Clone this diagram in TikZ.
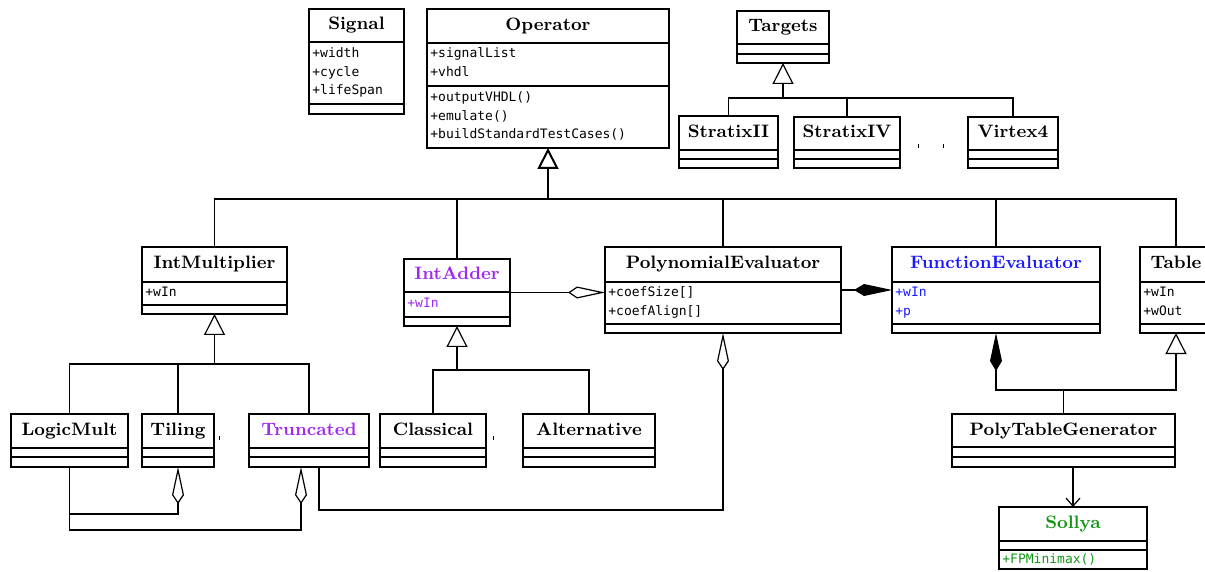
\documentclass[tikz,border=0pt]{standalone}
\usepackage{fontspec}
\setmonofont{DejaVu Sans Mono}
\usetikzlibrary{arrows.meta}
\definecolor{upurple}{RGB}{160,40,240}
\definecolor{ublue}{RGB}{25,25,255}
\definecolor{ugreen}{RGB}{20,150,20}
\tikzset{
  box/.style={draw, line width=0.75pt, inner sep=0pt, outer sep=0pt, anchor=north west},
  sepline/.style={line width=0.75pt},
  ctitle/.style={font=\fontsize{9}{11}\selectfont\bfseries, inner sep=0pt, text height=6.5pt, text depth=2pt},
  cattr/.style={font=\fontsize{6.5}{8}\selectfont\ttfamily, inner sep=0pt, anchor=west, text height=4.8pt, text depth=1.3pt},
  conn/.style={line width=0.6pt},
  inherit/.style={conn, -{Triangle[open, length=10.5pt, width=10.5pt]}},
  aggr/.style={conn, -{Kite[open, length=18.5pt, width=6pt, inset=4.5pt]}},
  compo/.style={conn, -{Kite[length=19pt, width=6pt, inset=5pt]}},
  assoc/.style={conn, -{Straight Barb[length=4pt, width=7pt]}},
}
\newcommand\umlcls[9]{%
  \node[box, minimum width={(#4-#2)*0.5pt}, minimum height={(#5-#3)*0.5pt}] (#1) at (#2,#3) {};
  \draw[sepline] (#2,#6) -- (#4,#6);
  \draw[sepline] (#2,#7) -- (#4,#7);
  \node[ctitle, text=#9] (#1-t) at ({(#2+#4)/2},{(#3+#6)/2}) {#8};
}
\begin{document}
\begin{tikzpicture}[x=0.5pt, y=-0.5pt]
\clip (0,0) rectangle (1205,572);
% classes
\umlcls{signal}{309}{9}{404}{114}{42}{104}{Signal}{black}
\umlcls{operator}{427}{9}{669}{148}{43}{86}{Operator}{black}
\umlcls{targets}{737}{11}{829}{63}{44}{54}{Targets}{black}
\umlcls{stratixii}{679}{116}{778}{168}{150}{159}{StratixII}{black}
\umlcls{stratixiv}{794}{117}{900}{168}{150}{159}{StratixIV}{black}
\umlcls{virtex}{968}{117}{1058}{168}{150}{159}{Virtex4}{black}
\umlcls{intmult}{142}{247}{287}{314}{282}{305}{IntMultiplier}{black}
\umlcls{intadder}{404}{259}{510}{326}{292}{317}{IntAdder}{upurple}
\umlcls{polyeval}{605}{247}{841}{333}{282}{324}{PolynomialEvaluator}{black}
\umlcls{fe}{892}{247}{1100}{333}{282}{324}{FunctionEvaluator}{ublue}
\umlcls{table}{1140}{247}{1212}{333}{282}{324}{Table}{black}
\umlcls{logicmult}{11}{414}{128}{467}{448}{457}{LogicMult}{black}
\umlcls{tiling}{142}{414}{214}{467}{448}{457}{Tiling}{black}
\umlcls{truncated}{249}{414}{369}{467}{448}{457}{Truncated}{upurple}
\umlcls{classical}{380}{414}{486}{467}{448}{457}{Classical}{black}
\umlcls{alternative}{523}{414}{655}{467}{448}{457}{Alternative}{black}
\umlcls{ptg}{952}{414}{1175}{467}{447}{457}{PolyTableGenerator}{black}
\umlcls{sollya}{999}{507}{1147}{569}{541}{550}{Sollya}{ugreen}
% attributes and methods
\node[cattr] (signal-a1) at (312,54) {+width};
\node[cattr] (signal-a2) at (312,73) {+cycle};
\node[cattr] (signal-a3) at (312,91) {+lifeSpan};
\node[cattr] (operator-a1) at (430,54) {+signalList};
\node[cattr] (operator-a2) at (430,73) {+vhdl};
\node[cattr] (operator-m1) at (430,98) {+outputVHDL()};
\node[cattr] (operator-m2) at (430,117) {+emulate()};
\node[cattr] (operator-m3) at (430,135) {+buildStandardTestCases()};
\node[cattr] (intmult-a1) at (145,293) {+wIn};
\node[cattr, text=upurple] (intadder-a1) at (407,304) {+wIn};
\node[cattr] (polyeval-a1) at (608,293) {+coefSize[]};
\node[cattr] (polyeval-a2) at (608,312) {+coefAlign[]};
\node[cattr, text=ublue] (fe-a1) at (895,293) {+wIn};
\node[cattr, text=ublue] (fe-a2) at (895,312) {+p};
\node[cattr] (table-a1) at (1143,293) {+wIn};
\node[cattr] (table-a2) at (1143,312) {+wOut};
\node[cattr, text=ugreen] (sollya-m1) at (1002,560) {+FPMinimax()};
% small marks
\draw[line width=0.5pt] (918,144) -- (918,148);
\draw[line width=0.5pt] (943,144) -- (943,148);
\draw[line width=0.5pt] (219,436) -- (219,440);
\draw[line width=0.5pt] (493,436) -- (493,440);
% Operator generalisation
\coordinate (opj) at (548,199);
\draw[conn] (intmult.north) |- (opj);
\draw[conn] (intadder.north) |- (opj);
\draw[conn] (polyeval.north) |- (opj);
\draw[conn] (fe.north) |- (opj);
\draw[conn] (table.north) |- (opj);
\draw[inherit, line width=1pt] (opj) -- (operator.south);
% Targets generalisation
\coordinate (tj) at (783,98);
\draw[conn] (stratixii.north) |- (tj);
\draw[conn] (stratixiv.north) |- (tj);
\draw[conn] (virtex.north) |- (tj);
\draw[inherit] (tj) -- (targets.south);
% IntMultiplier generalisation
\coordinate (imj) at (214.5,364);
\draw[conn] (logicmult.north) |- (imj);
\draw[conn] (tiling.north) |- (imj);
\draw[conn] (truncated.north) |- (imj);
\draw[inherit] (imj) -- (intmult.south);
% IntAdder generalisation
\coordinate (iaj) at (457,370);
\draw[conn] (classical.north) |- (iaj);
\draw[conn] (alternative.north) |- (iaj);
\draw[inherit] (iaj) -- (intadder.south);
% aggregations
\coordinate (a1) at (178,514);
\draw[aggr] (logicmult.south) |- (a1) -- (tiling.south);
\coordinate (a2) at (301,530);
\draw[aggr] (logicmult.south) |- (a2) -- (a2 |- truncated.south);
\coordinate (a3) at (723,510);
\draw[aggr] ([xshift=5pt]truncated.south) |- (a3) -- (polyeval.south);
\draw[aggr] (intadder.east) -- (intadder.east -| polyeval.west);
\draw[compo] (polyeval.east) -- (polyeval.east -| fe.west);
% PolyTableGenerator
\coordinate (pj) at (1064,390);
\draw[compo] (ptg.north) |- (pj -| fe.south) -- (fe.south);
\draw[inherit] (ptg.north) |- (pj -| table.south) -- (table.south);
\draw[assoc] (sollya.north |- ptg.south) -- (sollya.north);
\end{tikzpicture}
\end{document}
